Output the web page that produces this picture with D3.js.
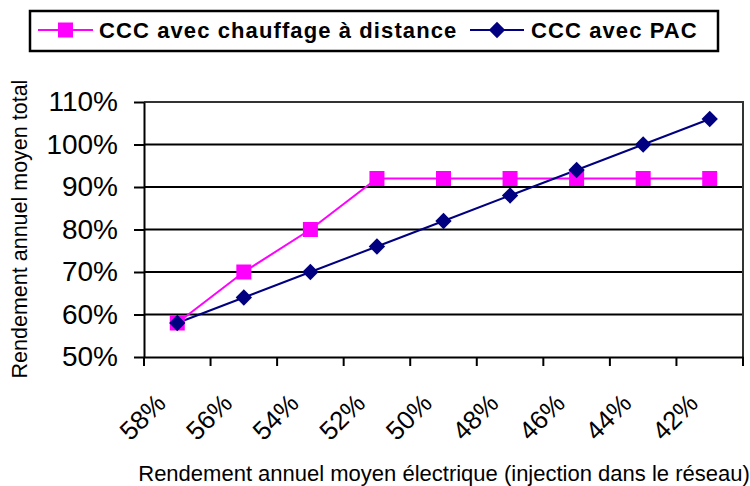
<!DOCTYPE html>
<html>
<head>
<meta charset="utf-8">
<script src="https://cdn.jsdelivr.net/npm/d3@7"></script>
<style>
  body { margin: 0; background: #fff; }
  svg { display: block; font-family: Arial, "Liberation Sans", sans-serif; }
</style>
</head>
<body>
<svg id="chart" width="750" height="486"></svg>
<script>
// data
let categories = ["58%", "56%", "54%", "52%", "50%", "48%", "46%", "44%", "42%"]
let chauffage = [58, 70, 80, 92, 92, 92, 92, 92, 92]
let pac = [58, 64, 70, 76, 82, 88, 94, 100, 106]
let yTicks = [50, 60, 70, 80, 90, 100, 110]

let svg = d3.select('#chart')

let plot = {left: 144, right: 743, top: 102, bottom: 357}

let x = d3.scaleBand().domain(categories).range([plot.left, plot.right])
let y = d3.scaleLinear().domain([50, 110]).range([plot.bottom, plot.top])

// GRIDLINES
svg.append('g')
    .selectAll('line')
    .data(yTicks.slice(1, -1))
    .enter()
    .append('line')
    .attr('x1', plot.left).attr('x2', plot.right)
    .attr('y1', d => y(d)).attr('y2', d => y(d))
    .attr('stroke', '#000').attr('stroke-width', 2)

// PLOT BORDER (top, right)
svg.append('path')
    .attr('d', `M${plot.left},${plot.top}H${plot.right}V${plot.bottom}`)
    .attr('fill', 'none')
    .attr('stroke', '#333').attr('stroke-width', 2)

// Y AXIS
let yAxis = svg.append('g')
    .attr('transform', `translate(${plot.left},0)`)
    .call(d3.axisLeft(y).tickValues(yTicks).tickSize(10).tickSizeOuter(0).tickPadding(16).tickFormat(d => d + '%'))
yAxis.select('.domain').attr('stroke', '#000').attr('stroke-width', 2)
yAxis.selectAll('.tick line').attr('stroke', '#000').attr('stroke-width', 2)
yAxis.selectAll('text')
    .attr('font-size', 28)
    .attr('font-family', 'Arial, "Liberation Sans", sans-serif')
    .attr('fill', '#000')

// X AXIS
let xAxis = svg.append('g')
    .attr('transform', `translate(0,${plot.bottom})`)
    .call(d3.axisBottom(x).tickSize(0).tickSizeOuter(0).tickFormat(''))
xAxis.select('.domain').attr('stroke', '#000').attr('stroke-width', 2)

// category boundary ticks
let bounds = categories.map(c => x(c)).concat([x(categories[categories.length - 1]) + x.bandwidth()])
svg.append('g')
    .selectAll('line')
    .data(bounds)
    .enter()
    .append('line')
    .attr('x1', d => d).attr('x2', d => d)
    .attr('y1', plot.bottom).attr('y2', plot.bottom + 9)
    .attr('stroke', '#000').attr('stroke-width', 2)

// x tick labels, rotated
svg.append('g')
    .selectAll('text')
    .data(categories)
    .enter()
    .append('text')
    .attr('transform', d => `translate(${x(d) + x.bandwidth() / 2 - 10},${plot.bottom + 48}) rotate(-45)`)
    .attr('text-anchor', 'end')
    .attr('font-size', 26)
    .attr('fill', '#000')
    .text(d => d)

// AXIS TITLES
svg.append('text')
    .attr('transform', `translate(27,229) rotate(-90)`)
    .attr('text-anchor', 'middle')
    .attr('font-size', 21.5)
    .attr('fill', '#000')
    .text('Rendement annuel moyen total')

svg.append('text')
    .attr('x', 444)
    .attr('y', 481)
    .attr('text-anchor', 'middle')
    .attr('font-size', 22)
    .attr('fill', '#000')
    .text('Rendement annuel moyen électrique (injection dans le réseau)')

// LINES
let line = d3.line()
    .x((d, i) => x(categories[i]) + x.bandwidth() / 2)
    .y(d => y(d))

svg.append('path')
    .datum(chauffage)
    .attr('d', line)
    .attr('fill', 'none')
    .attr('stroke', '#ff00ff')
    .attr('stroke-width', 2)

svg.append('path')
    .datum(pac)
    .attr('d', line)
    .attr('fill', 'none')
    .attr('stroke', '#000080')
    .attr('stroke-width', 2)

// MARKERS
svg.append('g')
    .selectAll('rect')
    .data(chauffage)
    .enter()
    .append('rect')
    .attr('x', (d, i) => x(categories[i]) + x.bandwidth() / 2 - 7.5)
    .attr('y', d => y(d) - 7.5)
    .attr('width', 15).attr('height', 15)
    .attr('fill', '#ff00ff')

let diamond = d3.symbol().type(d3.symbolDiamond2).size(170)
svg.append('g')
    .selectAll('path')
    .data(pac)
    .enter()
    .append('path')
    .attr('d', diamond)
    .attr('transform', (d, i) => `translate(${x(categories[i]) + x.bandwidth() / 2},${y(d)})`)
    .attr('fill', '#000080')

// LEGEND
let legend = svg.append('g')
legend.append('rect')
    .attr('x', 30).attr('y', 11)
    .attr('width', 688).attr('height', 40)
    .attr('fill', '#fff')
    .attr('stroke', '#000').attr('stroke-width', 2.5)

let legendItems = [
    {name: 'CCC avec chauffage à distance', color: '#ff00ff', x0: 38, x1: 93, tx: 99, shape: 'square'},
    {name: 'CCC avec PAC', color: '#000080', x0: 470, x1: 524, tx: 531, shape: 'diamond'}
]
legendItems.forEach(function(item){
    let ly = 30
    legend.append('line')
        .attr('x1', item.x0).attr('x2', item.x1)
        .attr('y1', ly).attr('y2', ly)
        .attr('stroke', item.color).attr('stroke-width', 2)
    if(item.shape == 'square'){
        legend.append('rect')
            .attr('x', (item.x0 + item.x1) / 2 - 7.5).attr('y', ly - 7.5)
            .attr('width', 15).attr('height', 15)
            .attr('fill', item.color)
    } else {
        legend.append('path')
            .attr('d', diamond)
            .attr('transform', `translate(${(item.x0 + item.x1) / 2},${ly})`)
            .attr('fill', item.color)
    }
    legend.append('text')
        .attr('x', item.tx).attr('y', 38)
        .attr('font-size', 22)
        .attr('font-weight', 'bold')
        .attr('letter-spacing', 1.1)
        .attr('fill', '#000')
        .text(item.name)
})
</script>
</body>
</html>
